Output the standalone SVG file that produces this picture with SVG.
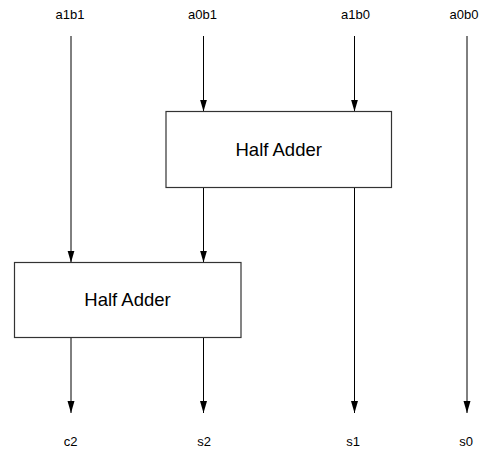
<svg xmlns="http://www.w3.org/2000/svg" width="502" height="452" viewBox="0 0 502 452">
  <style>
    .lbl { font-family: "Liberation Sans", Arial, sans-serif; font-size: 13px; fill: #000; text-anchor: middle; }
    .box { fill: #fff; stroke: #333; stroke-width: 1.2; }
    .boxtxt { font-family: "Liberation Sans", Arial, sans-serif; font-size: 18.5px; fill: #000; text-anchor: middle; }
    .wire { stroke: #000; stroke-width: 1; fill: none; marker-end: url(#arr); }
  </style>
  <defs>
    <marker id="arr" markerUnits="userSpaceOnUse" markerWidth="12" markerHeight="8" refX="12" refY="3.5" orient="auto">
      <path d="M0,0 L12,3.5 L0,7 z" fill="#000"/>
    </marker>
  </defs>
  <rect width="502" height="452" fill="#fff"/>
  <g id="connectors">
    <line class="wire" x1="71" y1="36" x2="71" y2="262.5"/>
    <line class="wire" x1="203.5" y1="36" x2="203.5" y2="111.5"/>
    <line class="wire" x1="354.5" y1="36" x2="354.5" y2="111.5"/>
    <line class="wire" x1="467" y1="36" x2="467" y2="413"/>
    <line class="wire" x1="203.5" y1="187.5" x2="203.5" y2="262.5"/>
    <line class="wire" x1="354.5" y1="187.5" x2="354.5" y2="413"/>
    <line class="wire" x1="71" y1="337.5" x2="71" y2="413"/>
    <line class="wire" x1="203.5" y1="337.5" x2="203.5" y2="413"/>
  </g>
  <g id="ha1">
    <rect class="box" x="166" y="111.5" width="225.5" height="76"/>
    <text class="boxtxt" x="278.7" y="155.5">Half Adder</text>
  </g>
  <g id="ha2">
    <rect class="box" x="14.5" y="262.5" width="226.5" height="75"/>
    <text class="boxtxt" x="127.5" y="305.8">Half Adder</text>
  </g>
  <g id="in-a1b1"><text class="lbl" x="70" y="18.5">a1b1</text></g>
  <g id="in-a0b1"><text class="lbl" x="202.5" y="18.5">a0b1</text></g>
  <g id="in-a1b0"><text class="lbl" x="355.5" y="18.5">a1b0</text></g>
  <g id="in-a0b0"><text class="lbl" x="464" y="18.5">a0b0</text></g>
  <g id="out-c2"><text class="lbl" x="70.5" y="445.5">c2</text></g>
  <g id="out-s2"><text class="lbl" x="204" y="445.5">s2</text></g>
  <g id="out-s1"><text class="lbl" x="353" y="445.5">s1</text></g>
  <g id="out-s0"><text class="lbl" x="466" y="445.5">s0</text></g>
</svg>
